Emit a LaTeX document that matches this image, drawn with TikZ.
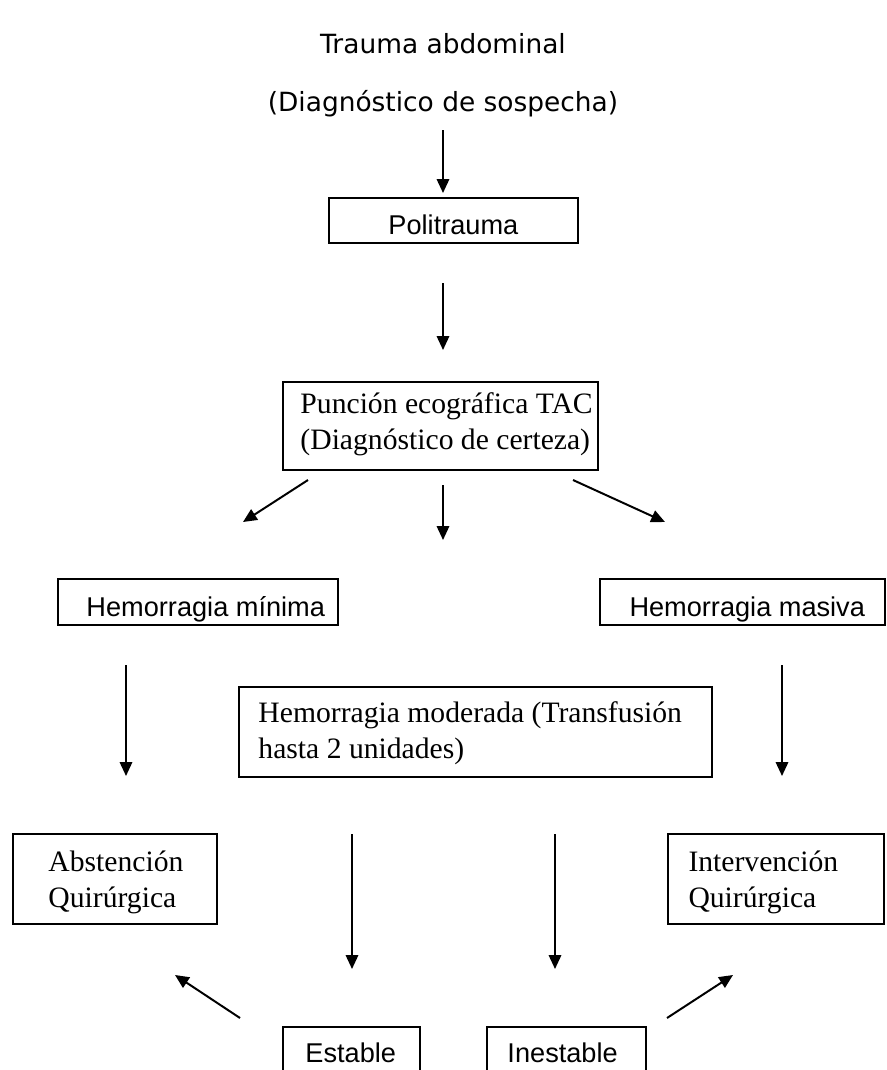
\documentclass[tikz,border=0pt]{standalone}
\usepackage{fontspec}
\setmainfont{Liberation Serif}
\newfontfamily\arialfont{Liberation Sans}
\newfontfamily\verdanafont{DejaVu Sans}
\usetikzlibrary{arrows.meta}

\begin{document}
\begin{tikzpicture}[x=0.405pt, y=-0.405pt,
  box/.style={draw, line width=0.8pt, inner sep=0pt},
  arr/.style={line width=0.8pt, -{Triangle[length=5.6pt, width=5pt]}},
  titletxt/.style={font=\verdanafont\fontsize{10.7}{13}\selectfont, inner sep=0pt},
  sanstxt/.style={font=\arialfont\fontsize{11}{13}\selectfont, inner sep=0pt, anchor=base west},
  seriftxt/.style={font=\fontsize{12}{14.2}\selectfont, inner sep=0pt, anchor=base west, align=left}]
\useasboundingbox (0,0) rectangle (886,1070);
\clip (0,0) rectangle (886,1070);
% Titles
\node[titletxt, anchor=base] (title) at (443,53) {Trauma abdominal};
\node[titletxt, anchor=base] (sosp) at (443,111) {(Diagnóstico de sospecha)};
% Boxes (sizes in pt)
\node[box, minimum width=100.8pt, minimum height=18.2pt] (pol) at (453.5,220.5) {};
\node[box, minimum width=127.6pt, minimum height=35.6pt] (pun) at (440.5,426) {};
\node[box, minimum width=113.4pt, minimum height=18.6pt] (min) at (198,602) {};
\node[box, minimum width=115.4pt, minimum height=18.6pt] (mas) at (742.5,602) {};
\node[box, minimum width=191.6pt, minimum height=36.5pt] (mod) at (475.5,732) {};
\node[box, minimum width=82.6pt, minimum height=36.5pt] (abs) at (115,879) {};
\node[box, minimum width=87.5pt, minimum height=36.5pt] (int) at (776,879) {};
\node[box, minimum width=55.5pt, minimum height=24.3pt] (est) at (351.5,1057) {};
\node[box, minimum width=64.4pt, minimum height=24.3pt] (ines) at (566.5,1057) {};
% Texts (two-line texts sit on their last baseline)
\node[sanstxt] (polt) at (388,234) {Politrauma};
\node[seriftxt] (punt) at (300,449) {Punción ecográfica TAC\\(Diagnóstico de certeza)};
\node[sanstxt] (mint) at (86,616) {Hemorragia mínima};
\node[sanstxt] (mast) at (629,616) {Hemorragia masiva};
\node[seriftxt] (modt) at (258,758) {Hemorragia moderada (Transfusión\\hasta 2 unidades)};
\node[seriftxt] (abst) at (48,907) {Abstención\\Quirúrgica};
\node[seriftxt] (intt) at (688,907) {Intervención\\Quirúrgica};
\node[sanstxt] (estt) at (305,1062) {Estable};
\node[sanstxt] (inest) at (507,1062) {Inestable};
% Arrow ends
\coordinate (a1s) at (443,130);  \coordinate (a1e) at (443,193);
\coordinate (a2s) at (443,283);  \coordinate (a2e) at (443,350);
\coordinate (dls) at (308,480);  \coordinate (dle) at (243,522);
\coordinate (dcs) at (443,485);  \coordinate (dce) at (443,540);
\coordinate (drs) at (573,480);  \coordinate (dre) at (665,522);
\coordinate (vls) at (126,665);  \coordinate (vle) at (126,776);
\coordinate (vrs) at (782,665);  \coordinate (vre) at (782,776);
\coordinate (ves) at (352,834);  \coordinate (vee) at (352,969);
\coordinate (vis) at (555,834);  \coordinate (vie) at (555,969);
\coordinate (bls) at (240,1018); \coordinate (ble) at (175,975);
\coordinate (brs) at (667,1018); \coordinate (bre) at (733,975);
% Arrows
\draw[arr] (a1s) -- (a1e);
\draw[arr] (a2s) -- (a2e);
\draw[arr] (dls) -- (dle);
\draw[arr] (dcs) -- (dce);
\draw[arr] (drs) -- (dre);
\draw[arr] (vls) -- (vle);
\draw[arr] (vrs) -- (vre);
\draw[arr] (ves) -- (vee);
\draw[arr] (vis) -- (vie);
\draw[arr] (bls) -- (ble);
\draw[arr] (brs) -- (bre);
\end{tikzpicture}
\end{document}
